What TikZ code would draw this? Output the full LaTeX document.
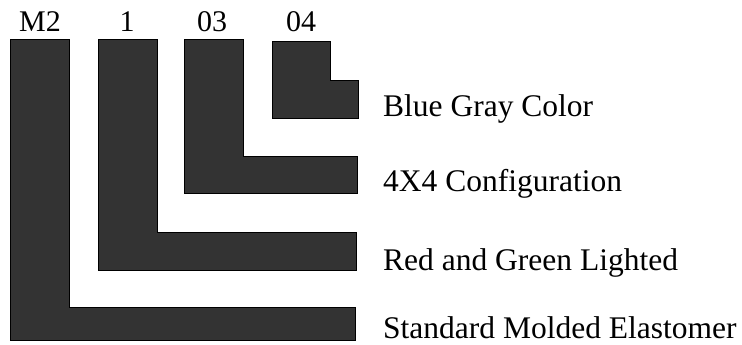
\documentclass[tikz,border=0pt]{standalone}
\usepackage{fontspec}
\setmainfont{Liberation Serif}
\begin{document}
\begin{tikzpicture}[x=1pt,y=-1pt,
  bar/.style={fill=black!80,draw=black,line width=1pt},
  codelabel/.style={anchor=base,inner sep=0pt,font=\fontsize{30}{36}\selectfont},
  desclabel/.style={anchor=base west,inner sep=0pt,font=\fontsize{31.5}{38}\selectfont}]
\useasboundingbox (0,0) rectangle (742,345);
% L-shaped bars
\path[bar] (10,40) -- (69,40) -- (69,307) -- (355,307) -- (355,340) -- (10,340) -- cycle;
\path[bar] (98,40) -- (157,40) -- (157,232) -- (356,232) -- (356,270) -- (98,270) -- cycle;
\path[bar] (184,40) -- (243,40) -- (243,156) -- (357,156) -- (357,193) -- (184,193) -- cycle;
\path[bar] (272,42) -- (330,42) -- (330,81) -- (358,81) -- (358,118) -- (272,118) -- cycle;
% code labels
\node[codelabel] (m2) at (40,32) {M2};
\node[codelabel] (one) at (127,32) {1};
\node[codelabel] (o3) at (212,32) {03};
\node[codelabel] (o4) at (301,32) {04};
% descriptions
\node[desclabel] (d4) at (383,116) {Blue Gray Color};
\node[desclabel] (d3) at (383,191) {4X4 Configuration};
\node[desclabel] (d2) at (383,270) {Red and Green Lighted};
\node[desclabel] (d1) at (383,338) {Standard Molded Elastomer};
\end{tikzpicture}
\end{document}
